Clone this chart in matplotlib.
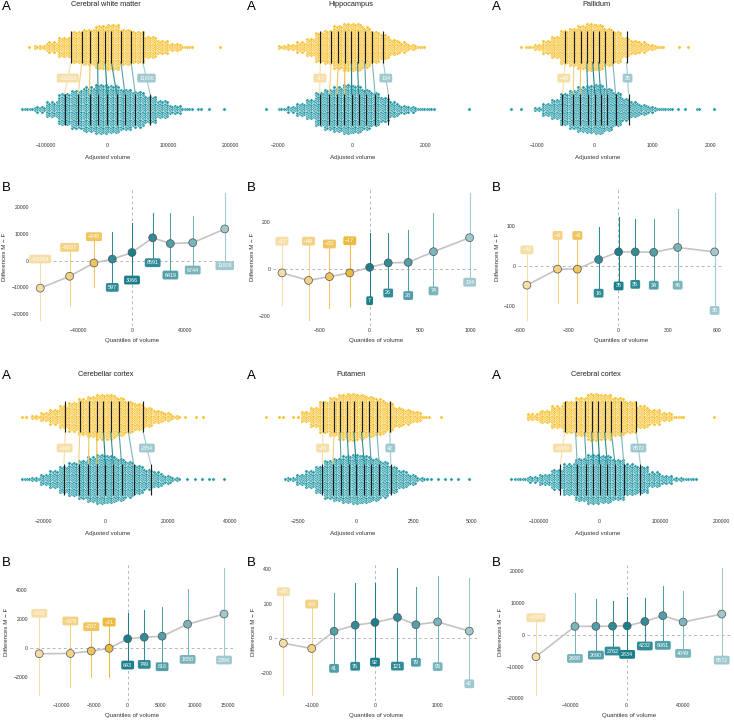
import matplotlib.pyplot as plt
from matplotlib.colors import to_rgb

plt.rcParams['font.family'] = ['Liberation Sans', 'DejaVu Sans']

# ---------------------------------------------------------------- data
titles = ['Cerebral white matter', 'Hippocampus', 'Pallidum',
          'Cerebellar cortex', 'Putamen', 'Cerebral cortex']

# shift functions: deciles (x), differences M - F, CI bounds
q_wm = [-69180, -47040, -28680, -14840, 0, 15600, 28930, 45790, 69940]
d_wm = [-10283, -5837, -848, 597, 3066, 8591, 6419, 6744, 11906]
lo_wm = [-22250, -17000, -10000, -10000, -7250, -750, -5375, -3500, -1875]
hi_wm = [625, 5000, 9000, 10875, 14000, 17750, 17750, 16750, 25250]

q_hip = [-868, -605, -398, -197, 0, 184, 382, 632, 990]
d_hip = [-17, -49, -33, -17, 7, 26, 28, 74, 134]
lo_hip = [-154, -219, -169, -159, -136, -103, -114, -94, -57]
hi_hip = [119, 119, 107, 121, 153, 153, 167, 241, 324]

q_pal = [-554, -368, -248, -119, 2, 103, 215, 360, 584]
d_pal = [-48, -8, -8, 16, 35, 35, 34, 46, 35]
lo_pal = [-135, -93, -92, -68, -50, -46, -48, -48, -111]
hi_pal = [40, 76, 76, 97, 123, 116, 116, 141, 181]

q_cb = [-13264, -8594, -5464, -2782, 0, 2484, 5166, 8992, 14456]
d_cb = [-393, -379, -207, -21, 643, 749, 818, 1650, 2354]
lo_cb = [-3254, -2677, -1985, -1985, -1177, -1131, -1292, -785, -831]
hi_cb = [2400, 1870, 1477, 1800, 2446, 2631, 2862, 4062, 5515]

q_put = [-1463, -1010, -653, -316, 0, 358, 653, 1000, 1505]
d_put = [-28, -58, 41, 76, 92, 121, 79, 95, 42]
lo_put = [-327, -327, -173, -161, -137, -160, -138, -163, -262]
hi_put = [269, 198, 260, 317, 321, 404, 298, 360, 346]

q_ctx = [-64000, -36470, -21650, -9880, 470, 12940, 25650, 40000, 67290]
d_ctx = [-6889, 2688, 2690, 2762, 2834, 4232, 6061, 4049, 6572]
lo_ctx = [-18982, -7423, -6363, -5090, -6150, -3500, -3287, -5832, -7953]
hi_ctx = [5408, 13255, 11453, 10710, 11983, 11771, 15376, 13892, 20997]

# swarm thickness (dots stacked) per bin: start, bin width, rows, outliers
wm_f = (-120000, 20000, [2, 5, 9, 14, 16, 19, 20, 16, 14, 10, 6, 4, 1])
wm_f_out = [-127000, 183000]
wm_m = (-140000, 20000, [1, 3, 7, 14, 17, 20, 22, 21, 18, 16, 12, 8, 4, 1])
wm_m_out = [148000, 152000, 166000, 190000]

hip_f = (-2000, 250, [2, 3, 5, 8, 13, 15, 19, 21, 21, 18, 14, 11, 7, 5, 3, 1])
hip_f_out = []
hip_m = (-2000, 250, [1, 3, 6, 9, 15, 18, 20, 22, 21, 18, 15, 11, 7, 4, 3, 1, 1])
hip_m_out = [-2318, 3172]

pal_f = (-1200, 150, [1, 3, 6, 10, 15, 17, 19, 21, 20, 17, 14, 9, 6, 5, 3, 1])
pal_f_out = [-1265, 1450, 1610]
pal_m = (-1050, 150, [2, 6, 9, 14, 17, 20, 21, 22, 19, 15, 10, 7, 5, 3, 1, 1])
pal_m_out = [-1437, -1270, 1430, 1560, 1770, 1800, 2052]

cb_f = (-24000, 3000, [2, 4, 7, 10, 13, 16, 18, 20, 20, 17, 14, 12, 9, 6, 4, 2])
cb_f_out = [-26700, -25500, 25400, 29100, 31200]
cb_m = (-27000, 3000, [1, 2, 5, 8, 12, 15, 17, 20, 22, 21, 19, 16, 13, 9, 7, 4, 2])
cb_m_out = [26000, 28500, 31000, 33000, 34500, 37900]

put_f = (-2400, 400, [5, 9, 14, 17, 20, 21, 20, 18, 16, 13, 9, 7, 5, 1])
put_f_out = [-3900, -3340, -3190, -2750, -2540, 3700]
put_m = (-3000, 400, [2, 5, 8, 12, 17, 19, 21, 22, 21, 19, 16, 12, 8, 5, 2])
put_m_out = [-3100, 3090, 3260, 3550, 3840, 4130, 4420, 4890]

ctx_f = (-120000, 20000, [3, 6, 10, 14, 17, 21, 20, 17, 14, 10, 7, 4, 1])
ctx_f_out = [188000]
ctx_m = (-140000, 20000, [1, 3, 5, 9, 14, 19, 22, 21, 18, 14, 12, 7, 4, 2, 1])
ctx_m_out = [-145000]

a_xticks = [[-100000, 0, 100000, 200000], [-2000, 0, 2000],
            [-1000, 0, 1000, 2000], [-20000, 0, 20000, 40000],
            [-2500, 0, 2500, 5000], [-100000, 0, 100000, 200000]]
b_xticks = [[-40000, 0, 40000], [-500, 0, 500, 1000],
            [-600, -300, 0, 300, 600], [-10000, -5000, 0, 5000, 10000, 15000],
            [-1000, 0, 1000], [-40000, 0, 40000]]
b_yticks = [[-20000, -10000, 0, 10000, 20000], [-200, 0, 200], [-100, 0, 100],
            [-2000, 0, 2000, 4000], [-200, 0, 200, 400],
            [-20000, -10000, 0, 10000, 20000]]

shift = [(q_wm, d_wm, lo_wm, hi_wm), (q_hip, d_hip, lo_hip, hi_hip),
         (q_pal, d_pal, lo_pal, hi_pal), (q_cb, d_cb, lo_cb, hi_cb),
         (q_put, d_put, lo_put, hi_put), (q_ctx, d_ctx, lo_ctx, hi_ctx)]
swarms = [(wm_f, wm_f_out, wm_m, wm_m_out), (hip_f, hip_f_out, hip_m, hip_m_out),
          (pal_f, pal_f_out, pal_m, pal_m_out), (cb_f, cb_f_out, cb_m, cb_m_out),
          (put_f, put_f_out, put_m, put_m_out), (ctx_f, ctx_f_out, ctx_m, ctx_m_out)]

# ---------------------------------------------------------------- style
W, H = 734, 720
F_COL = '#F8C02C'
M_COL = '#2399A6'
NEG_BASE = '#EAB22A'
POS_BASE = '#1A7F8B'
SHADE = [0.42, 0.58, 0.75, 0.9, 1.0, 0.9, 0.75, 0.58, 0.42]
TXT = '#333333'

COLS = [0, 245, 490]
A_Y = [(15.8, 140.4), (385.4, 510.6)]
A_PAD = [1.6, 6.2]
A_XLAB = [158, 533.5]
A_TITLE = [4.5, 374.5]
B_Y = [(187, 326.4), (562, 701.4)]
B_X = [(31, 234), (27.6, 234), (27.5, 234), (30, 233.3), (29, 233.6), (36.7, 241)]


def rect(x0, y0, x1, y1):
    return [x0 / W, 1 - y1 / H, (x1 - x0) / W, (y1 - y0) / H]


def shade(base, a):
    return tuple(a * c + (1 - a) for c in to_rgb(base))


def decile_cols(d):
    return [shade(NEG_BASE if v < 0 else POS_BASE, SHADE[i])
            for i, v in enumerate(d)]


def fmt(v):
    return str(v).replace('-', '\u2212')


def pad_lim(vals):
    lo, hi = min(vals), max(vals)
    r = hi - lo
    return lo - 0.05 * r, hi + 0.05 * r


def clean(ax):
    for s in ax.spines.values():
        s.set_visible(False)
    ax.tick_params(length=0, labelsize=3.7, labelcolor=TXT)


def draw_swarm(ax, spec, outliers, yc, color, upx, upy):
    start, width, rows = spec
    colsp = 2.3 * upx
    rowsp = 2.3 * upy
    xs, ys = [], []
    col = 0
    for i, n in enumerate(rows):
        x0 = start + i * width
        k = max(1, int(round(width / colsp)))
        for j in range(k):
            m = n if col % 2 == 0 else max(n - 1, 1)
            col += 1
            xc = x0 + (j + 0.5) * width / k
            for r in range(m):
                xs.append(xc)
                ys.append(yc + (r - (m - 1) / 2) * rowsp)
    xs.extend(outliers)
    ys.extend([yc] * len(outliers))
    ax.scatter(xs, ys, s=5.6, color=color, edgecolors='white',
               linewidths=0.3, zorder=2)


def label(ax, x, y, txt, col):
    ax.text(x, y, txt, ha='center', va='center', fontsize=3.9,
            color='white', zorder=6,
            bbox=dict(boxstyle='round,pad=0.35,rounding_size=0.3',
                      fc=col, ec='none'))


fig = plt.figure(figsize=(W / 100, H / 100), dpi=100)

for p in range(6):
    row, c = divmod(p, 3)
    cx = COLS[c]
    q, d, lo, hi = shift[p]
    cols = decile_cols(d)
    fspec, fout, mspec, mout = swarms[p]

    # ---------------- panel A: two swarms with deciles
    y0, y1 = A_Y[row]
    ax = fig.add_axes(rect(cx + 11, y0, cx + 234, y1))
    allx = [fspec[0], fspec[0] + fspec[1] * len(fspec[2]),
            mspec[0], mspec[0] + mspec[1] * len(mspec[2])] + fout + mout
    xl = pad_lim(allx)
    ax.set_xlim(*xl)
    ax.set_ylim(0.5, 2.5)
    upx = (xl[1] - xl[0]) / 223.0
    upy = 2.0 / (y1 - y0)
    draw_swarm(ax, fspec, fout, 2, F_COL, upx, upy)
    draw_swarm(ax, mspec, mout, 1, M_COL, upx, upy)
    top = [qq - dd for qq, dd in zip(q, d)]
    for i in range(9):
        ax.plot([top[i], top[i]], [1.75, 2.25], color='#1c1c1c', lw=0.85,
                zorder=4, solid_capstyle='butt')
        ax.plot([q[i], q[i]], [0.75, 1.25], color='#1c1c1c', lw=0.85,
                zorder=4, solid_capstyle='butt')
        ax.plot([top[i], q[i]], [1.75, 1.25], color=cols[i], lw=0.8, zorder=3)
    for i in (0, 8):
        label(ax, (top[i] + q[i]) / 2, 1.5, fmt(d[i]), cols[i])
    ax.set_xticks(a_xticks[p])
    ax.set_yticks([])
    clean(ax)
    ax.tick_params(axis='x', pad=A_PAD[row])
    fig.text((cx + 106) / W, 1 - A_TITLE[row] / H, titles[p], ha='center',
             va='center', fontsize=5.3, color='#222222')
    fig.text((cx + 108) / W, 1 - A_XLAB[row] / H, 'Adjusted volume',
             ha='center', va='center', fontsize=4.4, color=TXT)
    fig.text((cx + 1.5) / W, 1 - (y0 - 9) / H, 'A', ha='left', va='center',
             fontsize=9.5, color='black')

    # ---------------- panel B: shift function
    by0, by1 = B_Y[row]
    bx0, bx1 = B_X[p]
    bx = fig.add_axes(rect(cx + bx0, by0, cx + bx1, by1))
    bx.set_xlim(*pad_lim(q))
    bx.set_ylim(*pad_lim(lo + hi))
    bx.axhline(0, color='#9a9a9a', lw=0.5, ls=(0, (4, 4)), zorder=1)
    bx.axvline(0, color='#9a9a9a', lw=0.5, ls=(0, (4, 4)), zorder=1)
    for i in range(9):
        bx.plot([q[i], q[i]], [lo[i], hi[i]], color=cols[i], lw=0.75, zorder=2)
    bx.plot(q, d, color='#c4c4c4', lw=1.2, zorder=3)
    bx.scatter(q, d, s=32, color=cols, edgecolors='#505050', linewidths=0.5,
               zorder=4)
    for i in range(9):
        label(bx, q[i], hi[i] if d[i] < 0 else lo[i], fmt(d[i]), cols[i])
    bx.set_xticks(b_xticks[p])
    bx.set_yticks(b_yticks[p])
    clean(bx)
    bx.tick_params(pad=1.5)
    bx.set_xlabel('Quantiles of volume', fontsize=4.4, color=TXT, labelpad=3)
    bx.set_ylabel('Differences M \u2212 F', fontsize=4.4, color=TXT, labelpad=3)
    fig.text((cx + 1.5) / W, 1 - (by0 + 1) / H, 'B', ha='left', va='center',
             fontsize=9.5, color='black')

fig.savefig('out.png', dpi=100)
